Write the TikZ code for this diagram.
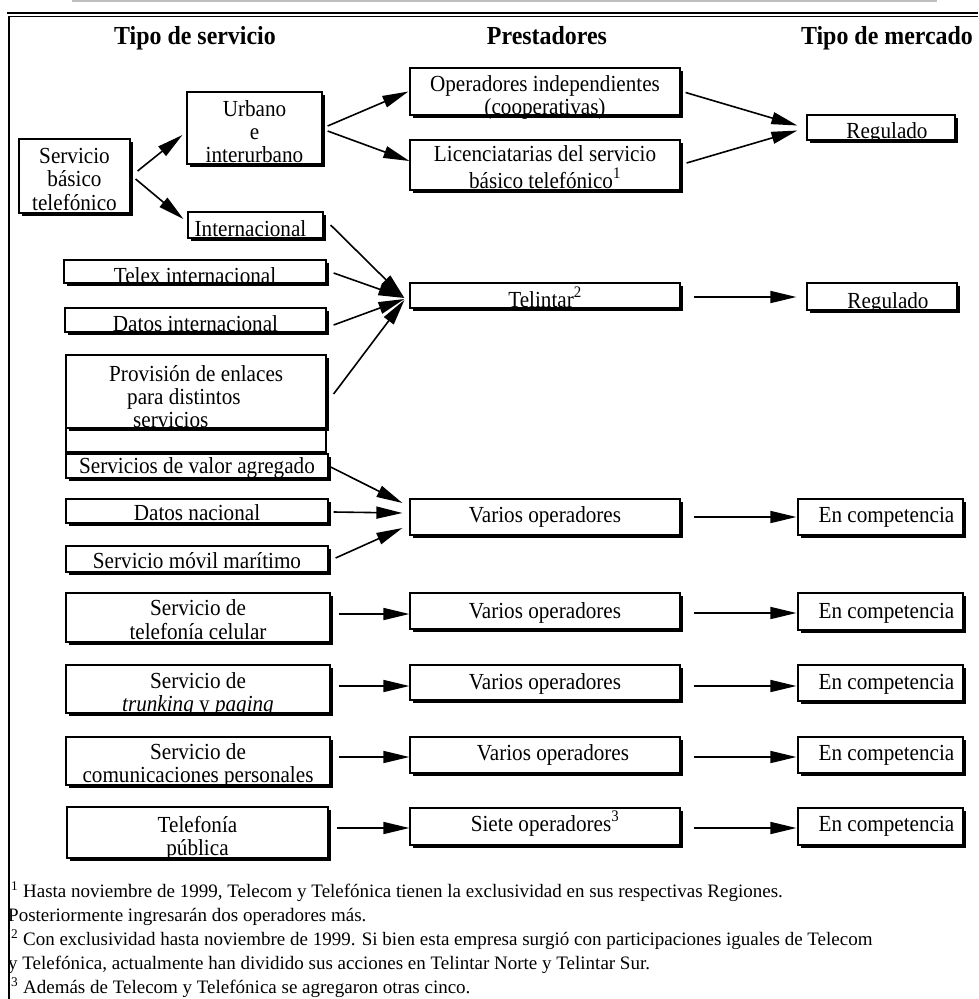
\documentclass[tikz,border=0pt]{standalone}
\usepackage{fontspec}
\setmainfont[FakeStretch=0.92]{Liberation Serif}
\newfontfamily\fnfont{Liberation Serif}
\usetikzlibrary{arrows.meta,shadows}
\tikzset{
 box/.style={draw=black, line width=1.2pt, fill=white, inner sep=0pt,
   drop shadow={shadow xshift=3pt, shadow yshift=-3pt, fill=black, opacity=1}},
 plainbox/.style={draw=black, line width=1.2pt, inner sep=0pt},
 txt/.style={inner sep=0pt, font=\fontsize{23}{23}\selectfont},
 hdr/.style={inner sep=0pt, anchor=base, font=\fontsize{26}{26}\selectfont\bfseries},
 fn/.style={inner sep=0pt, anchor=base west, font=\fnfont\fontsize{19}{19}\selectfont},
 arr/.style={line width=1.6pt, -{Triangle[length=26pt,width=12pt]}},
}
\newcommand\ml[1]{\begin{tabular}[b]{@{}c@{}}#1\end{tabular}}
\newcommand\bx[8][]{%
 \pgfmathsetmacro\bw{#5-#3}\pgfmathsetmacro\bh{#6-#4}%
 \node[box, minimum width=\bw pt, minimum height=\bh pt] (#2) at ({(#3+#5)/2},{(#4+#6)/2}) {};%
 \node[txt, anchor=base, #1] (#2t) at ({(#3+#5)/2},#7) {\ml{#8}};}
\begin{document}
\begin{tikzpicture}[x=1pt,y=-1pt]
\useasboundingbox (0,0) rectangle (978,999);
% frame
\draw[black!25, line width=1.5pt] (72,1) -- (937,1);
\draw[line width=2.5pt] (7,13) -- (978,13);
\draw[line width=1.2pt] (9,16.8) -- (978,16.8);
\draw[line width=2pt] (9,16) -- (9,999);
% headers
\node[hdr] (h1) at (195,44) {Tipo de servicio};
\node[hdr] (h2) at (547,44) {Prestadores};
\node[hdr] (h3) at (887,44) {Tipo de mercado};
% boxes
\bx{sbt}{19}{139}{130}{213}{210}{Servicio\\básico\\telefónico}
\bx{urb}{187}{92}{322}{164}{162}{Urbano\\e\\interurbano}
\bx[xshift=-5pt]{int}{188}{212}{323}{238}{236}{Internacional}
\bx{opi}{410}{68}{680}{115}{114}{Operadores independientes\\(cooperativas)}
\bx{lic}{410}{140}{680}{190}{188}{Licenciatarias del servicio\\básico telefónico\textsuperscript{1}}
\bx[xshift=6pt]{rega}{807}{115}{955}{140}{138}{Regulado}
\bx{telex}{64}{260}{326}{283}{283}{Telex internacional}
\bx{dint}{65}{308}{326}{332}{331}{Datos internacional}
\node[plainbox, minimum width=260pt, minimum height=97pt] (provo) at (196,403.5) {};
\node[box, minimum width=260pt, minimum height=73pt] (prov) at (196,391.5) {};
\node[txt, anchor=base west] (provt) at (109,427) {\begin{tabular}[b]{@{}l@{}}Provisión de enlaces\\\hspace*{18pt}para distintos\\\hspace*{24pt}servicios\end{tabular}};
\bx{sva}{66}{454}{328}{478}{473}{Servicios de valor agregado}
\bx{dnac}{66}{499}{328}{523}{520}{Datos nacional}
\bx{smm}{66}{546}{328}{572}{568}{Servicio móvil marítimo}
\bx{tel}{410}{283}{680}{308}{307}{Telintar\textsuperscript{2}}
\bx[xshift=6pt]{regb}{807}{283}{957}{310}{308}{Regulado}
\bx{vara}{410}{499}{680}{535}{522}{Varios operadores}
\bx[xshift=6pt]{eca}{798}{499}{963}{535}{522}{En competencia}
\bx{svcb}{66}{593}{330}{642}{639}{Servicio de\\telefonía celular}
\bx{varb}{410}{593}{680}{629}{618}{Varios operadores}
\bx[xshift=6pt]{ecb}{798}{593}{963}{630}{618}{En competencia}
\bx{svcc}{66}{665}{330}{713}{711}{Servicio de\\\textit{trunking} y \textit{paging}}
\bx{varc}{410}{665}{680}{700}{689}{Varios operadores}
\bx[xshift=6pt]{ecc}{798}{665}{963}{701}{689}{En competencia}
\bx{svcd}{66}{737}{330}{785}{782}{Servicio de\\comunicaciones personales}
\bx[xshift=8pt]{vard}{410}{737}{680}{773}{760}{Varios operadores}
\bx[xshift=6pt]{ecd}{798}{737}{963}{773}{760}{En competencia}
\bx{svce}{67}{807}{328}{858}{855}{Telefonía\\pública}
\bx{siete}{410}{808}{680}{845}{831}{Siete operadores\textsuperscript{3}}
\bx[xshift=6pt]{ece}{798}{808}{963}{845}{831}{En competencia}
% arrows
\draw[arr] ([shift={(7,-5)}]sbt.east) -- ([shift={(-4,7)}]urb.west);
\draw[arr] ([shift={(5,3)}]sbt.east) -- ([shift={(-4,-6)}]int.west);
\draw[arr] ([shift={(5,-2)}]urb.east) -- ([shift={(-1,0)}]opi.west);
\draw[arr] ([shift={(5,3)}]urb.east) -- ([shift={(0,-4)}]lic.west);
\draw[arr] ([shift={(5,1)}]opi.east) -- ([shift={(-9,-2)}]rega.west);
\draw[arr] ([shift={(6,-2)}]lic.east) -- ([shift={(-9,3)}]rega.west);
\draw[arr] ([shift={(7,0)}]int.east) -- ([shift={(-5,2.5)}]tel.west);
\draw[arr] ([shift={(7,1.5)}]telex.east) -- ([shift={(-5,2.5)}]tel.west);
\draw[arr] ([shift={(7,5)}]dint.east) -- ([shift={(-5,3.5)}]tel.west);
\draw[arr] ([shift={(7,2.5)}]prov.east) -- ([shift={(-5,4.5)}]tel.west);
\draw[arr] ([shift={(13,1.5)}]tel.east) -- ([shift={(-10,0.5)}]regb.west);
\draw[arr] ([shift={(2,1)}]sva.east) -- ([shift={(-7,-14)}]vara.west);
\draw[arr] ([shift={(5,1)}]dnac.east) -- ([shift={(-7,-4)}]vara.west);
\draw[arr] ([shift={(7,-1)}]smm.east) -- ([shift={(-7,11)}]vara.west);
\draw[arr] ([shift={(13,0)}]vara.east) -- ([shift={(-1,0)}]eca.west);
\draw[arr] ([shift={(8,-3.5)}]svcb.east) -- ([shift={(0,3)}]varb.west);
\draw[arr] ([shift={(13,2)}]varb.east) -- ([shift={(-1,1.5)}]ecb.west);
\draw[arr] ([shift={(8,-3)}]svcc.east) -- ([shift={(0,3.5)}]varc.west);
\draw[arr] ([shift={(13,3.5)}]varc.east) -- ([shift={(-1,3)}]ecc.west);
\draw[arr] ([shift={(8,-4)}]svcd.east) -- ([shift={(0,2)}]vard.west);
\draw[arr] ([shift={(13,2)}]vard.east) -- ([shift={(-1,2)}]ecd.west);
\draw[arr] ([shift={(8,-4.5)}]svce.east) -- ([shift={(0,1.5)}]siete.west);
\draw[arr] ([shift={(13,1.5)}]siete.east) -- ([shift={(-1,1.5)}]ece.west);
% footnotes
\node[fn] (f1) at (11,897) {\textsuperscript{1} Hasta noviembre de 1999, Telecom y Telefónica tienen la exclusividad en sus respectivas Regiones.};
\node[fn] (f2) at (8,921) {Posteriormente ingresarán dos operadores más.};
\node[fn] (f3) at (11,945) {\textsuperscript{2} Con exclusividad hasta noviembre de 1999. Si bien esta empresa surgió con participaciones iguales de Telecom};
\node[fn] (f4) at (8,969) {y Telefónica, actualmente han dividido sus acciones en Telintar Norte y Telintar Sur.};
\node[fn] (f5) at (11,993) {\textsuperscript{3} Además de Telecom y Telefónica se agregaron otras cinco.};
\end{tikzpicture}
\end{document}
